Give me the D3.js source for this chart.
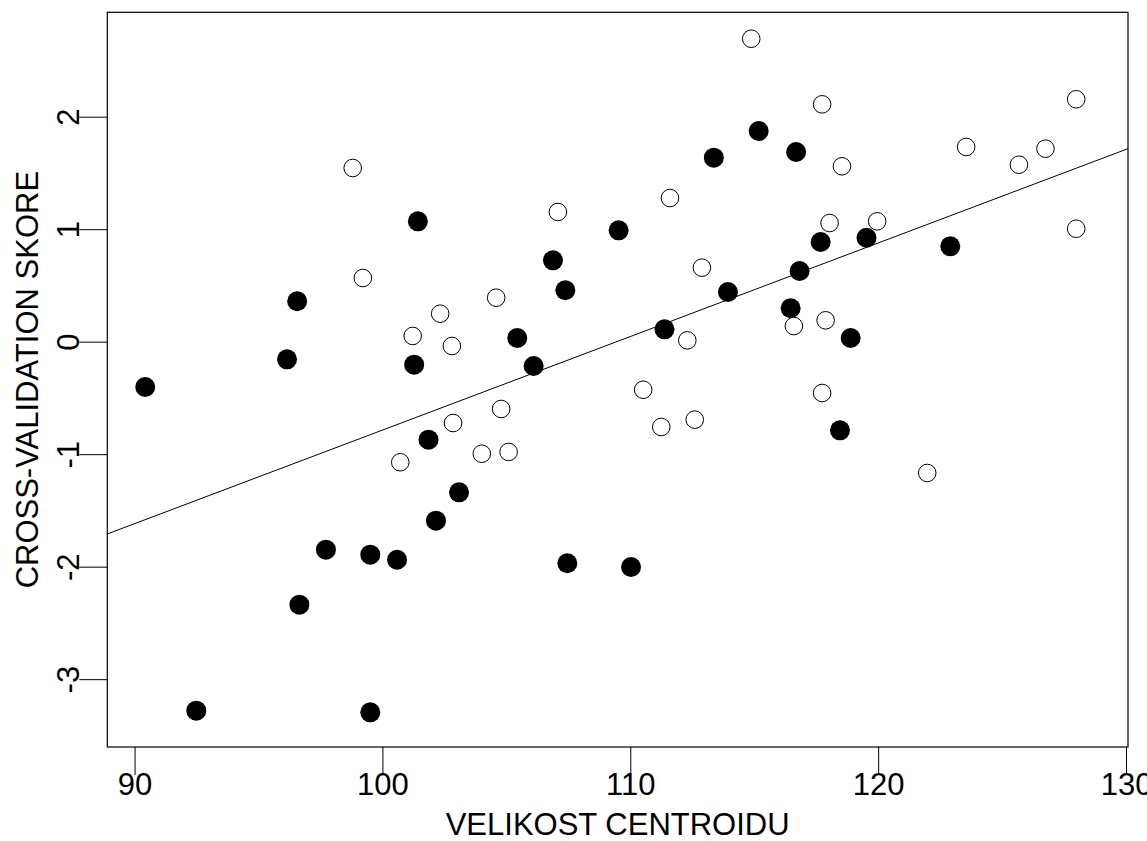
<!DOCTYPE html>
<meta charset="utf-8">
<style>
  body { margin: 0; background: #fff; }
  text { font-family: "Liberation Sans", Arial, sans-serif; fill: #000; }
</style>
<svg width="1147" height="841"></svg>
<script src="https://d3js.org/d3.v7.min.js"></script>
<script>

// group 1 (filled circles)
var filledX = [101.43, 96.56, 96.15, 101.28, 90.43, 101.86, 102.16, 97.72, 99.51, 100.59, 96.65,
  92.49, 99.51, 115.18, 113.37, 109.53, 106.88, 107.38, 113.94, 105.44, 111.38, 106.10,
  116.69, 117.68, 119.53, 122.91, 116.83, 116.47, 118.89, 118.46, 103.09, 107.46, 110.03];
var filledY = [1.070, 0.359, -0.157, -0.204, -0.403, -0.871, -1.591, -1.849, -1.893, -1.938, -2.338,
  -3.280, -3.295, 1.873, 1.636, 0.990, 0.723, 0.457, 0.442, 0.033, 0.110, -0.216,
  1.686, 0.886, 0.924, 0.848, 0.628, 0.297, 0.033, -0.788, -1.339, -1.970, -2.003];

// group 2 (open circles)
var openX = [98.80, 99.21, 102.33, 101.22, 102.80, 102.85, 100.72, 114.88, 111.60, 107.08, 112.89,
  104.59, 112.30, 117.74, 127.99, 118.54, 123.55, 125.68, 126.75, 118.04, 119.96, 127.99,
  116.60, 117.88, 117.74, 121.98, 110.52, 104.79, 112.60, 111.25, 104.01, 105.09];
var openY = [1.544, 0.566, 0.249, 0.051, -0.038, -0.723, -1.072, 2.693, 1.277, 1.153, 0.658,
  0.391, 0.012, 2.110, 2.155, 1.559, 1.731, 1.573, 1.716, 1.055, 1.070, 1.004,
  0.139, 0.190, -0.456, -1.167, -0.427, -0.598, -0.693, -0.758, -0.996, -0.980];

// fitted line: intercept, slope
var lineCoef = [-9.103, 0.08317];

var xTicks = [90, 100, 110, 120, 130];
var yTicks = [-3, -2, -1, 0, 1, 2];
var xTitle = "VELIKOST CENTROIDU";
var yTitle = "CROSS-VALIDATION SKORE";

var svg = d3.select("svg");
var pLeft = 107.3, pRight = 1128, pTop = 12.3, pBottom = 747;

var x = d3.scaleLinear().domain([88.9, 130.08]).range([pLeft, pRight]);
var y = d3.scaleLinear().domain([-3.603, 2.928]).range([pBottom, pTop]);

var fs = 31;
var plain = function(d) { return String(d); };   // R prints a plain hyphen

// x axis
var gx = svg.append("g")
  .attr("transform", "translate(0," + pBottom + ")")
  .call(d3.axisBottom(x).tickValues(xTicks).tickSize(28).tickPadding(-2).tickFormat(plain));
gx.select(".domain").remove();
gx.selectAll("line").attr("stroke", "#000");
gx.selectAll("text").attr("font-size", fs).style("font-family", "'Liberation Sans', Arial, sans-serif");

// y axis, labels rotated like R
var gy = svg.append("g")
  .attr("transform", "translate(" + pLeft + ",0)")
  .call(d3.axisLeft(y).tickValues(yTicks).tickSize(28).tickFormat(plain));
gy.select(".domain").remove();
gy.selectAll("line").attr("stroke", "#000");
gy.selectAll("text")
  .attr("font-size", fs)
  .style("font-family", "'Liberation Sans', Arial, sans-serif")
  .attr("transform", "rotate(-90)")
  .attr("x", 0)
  .attr("y", -28)
  .attr("dy", 0)
  .attr("text-anchor", "middle");

// frame
svg.append("rect")
  .attr("x", pLeft).attr("y", pTop)
  .attr("width", pRight - pLeft).attr("height", pBottom - pTop)
  .attr("fill", "none").attr("stroke", "#000").attr("stroke-width", 1.2);

// regression line, clipped to the plot box
svg.append("clipPath").attr("id", "box")
  .append("rect").attr("x", pLeft).attr("y", pTop)
  .attr("width", pRight - pLeft).attr("height", pBottom - pTop);

var xd = x.domain();
svg.append("line")
  .attr("clip-path", "url(#box)")
  .attr("x1", x(xd[0])).attr("y1", y(lineCoef[0] + lineCoef[1] * xd[0]))
  .attr("x2", x(xd[1])).attr("y2", y(lineCoef[0] + lineCoef[1] * xd[1]))
  .attr("stroke", "#000").attr("stroke-width", 1);

// points
svg.append("g").selectAll("circle")
  .data(openX)
  .enter().append("circle")
  .attr("cx", function(d) { return x(d); })
  .attr("cy", function(d, i) { return y(openY[i]); })
  .attr("r", 8.8)
  .attr("fill", "none")
  .attr("stroke", "#000")
  .attr("stroke-width", 1);

svg.append("g").selectAll("circle")
  .data(filledX)
  .enter().append("circle")
  .attr("cx", function(d) { return x(d); })
  .attr("cy", function(d, i) { return y(filledY[i]); })
  .attr("r", 10)
  .attr("fill", "#000");

// axis titles
svg.append("text")
  .attr("x", (pLeft + pRight) / 2)
  .attr("y", 835)
  .attr("text-anchor", "middle")
  .attr("font-size", fs)
  .text(xTitle);

svg.append("text")
  .attr("transform", "translate(38," + ((pTop + pBottom) / 2) + ") rotate(-90)")
  .attr("text-anchor", "middle")
  .attr("font-size", fs)
  .text(yTitle);

</script>
